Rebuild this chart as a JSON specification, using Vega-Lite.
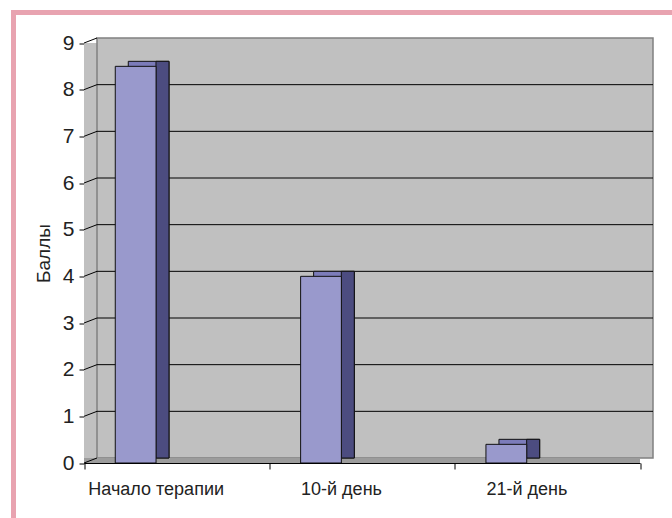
{
  "$schema": "https://vega.github.io/schema/vega-lite/v6.json",
  "width": 662,
  "height": 512,
  "autosize": {"type": "none"},
  "padding": {"left": 13.5, "top": 12.5, "right": -3.5, "bottom": -6.5},
  "background": "white",
  "datasets": {
    "bars": [
      {"period": "Начало терапии", "score": 8.5},
      {"period": "10-й день", "score": 4},
      {"period": "21-й день", "score": 0.4}
    ],
    "levels": [
      {"g": 0}, {"g": 1}, {"g": 2}, {"g": 3}, {"g": 4},
      {"g": 5}, {"g": 6}, {"g": 7}, {"g": 8}, {"g": 9}
    ],
    "one": [{"k": 1}]
  },
  "data": {"name": "bars"},
  "layer": [
    {
      "data": {"name": "one"},
      "mark": {"type": "rect", "fill": "#c0c0c0"},
      "encoding": {
        "x": {"datum": "Начало терапии", "bandPosition": 0, "type": "nominal", "axis": {"title": null},
              "scale": {"type": "band", "domain": ["Начало терапии", "10-й день", "21-й день"], "range": [70.5, 626.5], "paddingInner": 0, "paddingOuter": 0}},
        "x2": {"datum": "21-й день", "bandPosition": 1},
        "y": {"datum": 0, "type": "quantitative", "axis": {"title": "Баллы", "values": [0, 1, 2, 3, 4, 5, 6, 7, 8, 9]},
              "scale": {"type": "linear", "domain": [0, 9], "range": [450.5, 30.5], "nice": false}},
        "y2": {"datum": 9}
      }
    },
    {
      "data": {"name": "one"},
      "mark": {"type": "rect", "fill": "#c0c0c0", "stroke": "#808080", "strokeWidth": 1.5,
               "xOffset": 13, "x2Offset": 13, "yOffset": -5, "y2Offset": -5},
      "encoding": {
        "x": {"datum": "Начало терапии", "bandPosition": 0, "type": "nominal", "axis": {"title": null},
              "scale": {"type": "band", "domain": ["Начало терапии", "10-й день", "21-й день"], "range": [70.5, 626.5], "paddingInner": 0, "paddingOuter": 0}},
        "x2": {"datum": "21-й день", "bandPosition": 1},
        "y": {"datum": 0, "type": "quantitative", "axis": {"title": "Баллы", "values": [0, 1, 2, 3, 4, 5, 6, 7, 8, 9]},
              "scale": {"type": "linear", "domain": [0, 9], "range": [450.5, 30.5], "nice": false}},
        "y2": {"datum": 9}
      }
    },
    {
      "data": {"name": "one"},
      "mark": {"type": "rect", "fill": "#9c9c9c", "y2Offset": -5},
      "encoding": {
        "x": {"datum": "Начало терапии", "bandPosition": 0, "type": "nominal", "axis": {"title": null},
              "scale": {"type": "band", "domain": ["Начало терапии", "10-й день", "21-й день"], "range": [70.5, 626.5], "paddingInner": 0, "paddingOuter": 0}},
        "x2": {"datum": "21-й день", "bandPosition": 1},
        "y": {"datum": 0, "type": "quantitative", "axis": {"title": "Баллы", "values": [0, 1, 2, 3, 4, 5, 6, 7, 8, 9]},
              "scale": {"type": "linear", "domain": [0, 9], "range": [450.5, 30.5], "nice": false}},
        "y2": {"datum": 0}
      }
    },
    {
      "data": {"name": "levels"},
      "transform": [{"filter": "datum.g > 0 && datum.g < 9"}],
      "mark": {"type": "rule", "stroke": "black", "strokeWidth": 1,
               "xOffset": 13, "x2Offset": 13, "yOffset": -5},
      "encoding": {
        "x": {"datum": "Начало терапии", "bandPosition": 0, "type": "nominal", "axis": {"title": null},
              "scale": {"type": "band", "domain": ["Начало терапии", "10-й день", "21-й день"], "range": [70.5, 626.5], "paddingInner": 0, "paddingOuter": 0}},
        "x2": {"datum": "21-й день", "bandPosition": 1},
        "y": {"field": "g", "type": "quantitative", "axis": {"title": "Баллы", "values": [0, 1, 2, 3, 4, 5, 6, 7, 8, 9]},
              "scale": {"type": "linear", "domain": [0, 9], "range": [450.5, 30.5], "nice": false}}
      }
    },
    {
      "data": {"name": "levels"},
      "mark": {"type": "rule", "stroke": "black", "strokeWidth": 1, "x2Offset": 13, "y2Offset": -5},
      "encoding": {
        "x": {"datum": "Начало терапии", "bandPosition": 0, "type": "nominal", "axis": {"title": null},
              "scale": {"type": "band", "domain": ["Начало терапии", "10-й день", "21-й день"], "range": [70.5, 626.5], "paddingInner": 0, "paddingOuter": 0}},
        "x2": {"datum": "Начало терапии", "bandPosition": 0},
        "y": {"field": "g", "type": "quantitative", "axis": {"title": "Баллы", "values": [0, 1, 2, 3, 4, 5, 6, 7, 8, 9]},
              "scale": {"type": "linear", "domain": [0, 9], "range": [450.5, 30.5], "nice": false}},
        "y2": {"field": "g"}
      }
    },
    {
      "mark": {"type": "bar", "fill": "#7c7cba", "stroke": "#111111", "strokeWidth": 1,
               "width": {"band": 0.22}, "xOffset": -28, "yOffset": -5, "y2Offset": -5},
      "encoding": {
        "x": {"field": "period", "type": "nominal", "axis": {"title": null},
              "scale": {"type": "band", "domain": ["Начало терапии", "10-й день", "21-й день"], "range": [70.5, 626.5], "paddingInner": 0, "paddingOuter": 0}},
        "y": {"field": "score", "type": "quantitative", "axis": {"title": "Баллы", "values": [0, 1, 2, 3, 4, 5, 6, 7, 8, 9]},
              "scale": {"type": "linear", "domain": [0, 9], "range": [450.5, 30.5], "nice": false}},
        "y2": {"datum": 0}
      }
    },
    {
      "mark": {"type": "bar", "fill": "#4c4c80", "stroke": "#111111", "strokeWidth": 1,
               "width": {"band": 0.07}, "xOffset": -14.2, "yOffset": -5, "y2Offset": -5},
      "encoding": {
        "x": {"field": "period", "type": "nominal", "axis": {"title": null},
              "scale": {"type": "band", "domain": ["Начало терапии", "10-й день", "21-й день"], "range": [70.5, 626.5], "paddingInner": 0, "paddingOuter": 0}},
        "y": {"field": "score", "type": "quantitative", "axis": {"title": "Баллы", "values": [0, 1, 2, 3, 4, 5, 6, 7, 8, 9]},
              "scale": {"type": "linear", "domain": [0, 9], "range": [450.5, 30.5], "nice": false}},
        "y2": {"datum": 0}
      }
    },
    {
      "mark": {"type": "bar", "fill": "#9999cc", "stroke": "#111111", "strokeWidth": 1,
               "width": {"band": 0.22}, "xOffset": -41},
      "encoding": {
        "x": {"field": "period", "type": "nominal", "axis": {"title": null},
              "scale": {"type": "band", "domain": ["Начало терапии", "10-й день", "21-й день"], "range": [70.5, 626.5], "paddingInner": 0, "paddingOuter": 0}},
        "y": {"field": "score", "type": "quantitative", "axis": {"title": "Баллы", "values": [0, 1, 2, 3, 4, 5, 6, 7, 8, 9]},
              "scale": {"type": "linear", "domain": [0, 9], "range": [450.5, 30.5], "nice": false}}
      }
    }
  ],
  "config": {
    "view": {"stroke": "#e8a3b0", "strokeWidth": 5, "fill": "white"},
    "axis": {
      "grid": false, "domainColor": "black", "domainWidth": 1, "tickColor": "black", "tickWidth": 1,
      "labelColor": "#222222", "titleColor": "#222222", "titleFontWeight": "normal",
      "labelFont": "Liberation Sans", "titleFont": "Liberation Sans"
    },
    "axisX": {"orient": "bottom", "offset": -61.5, "tickSize": 6, "tickBand": "extent", "labelAngle": 0,
              "labelPadding": 11, "labelOffset": -21, "labelFontSize": 18},
    "axisY": {"orient": "left", "offset": -70.5, "tickSize": 5, "labelPadding": 5, "titlePadding": 9,
              "labelFontSize": 21, "titleFontSize": 19}
  }
}
